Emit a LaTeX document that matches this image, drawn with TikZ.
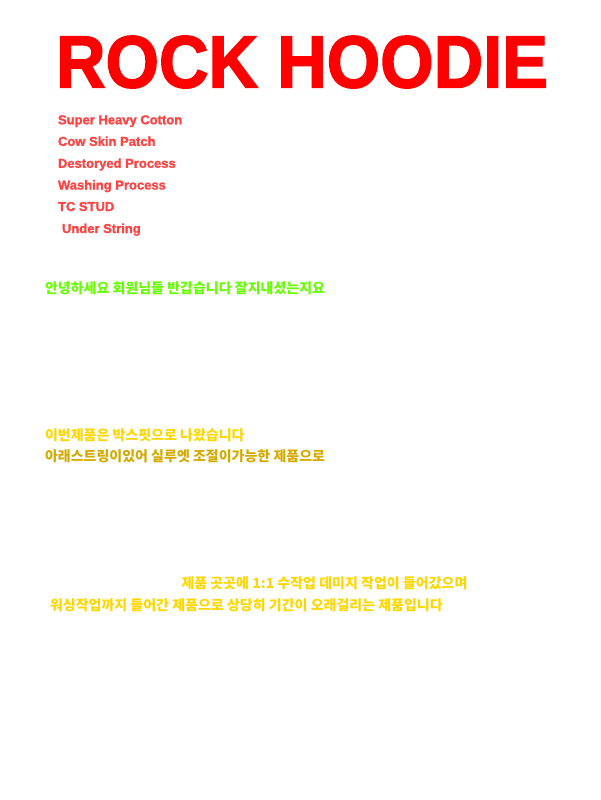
\documentclass[tikz,border=0pt]{standalone}
\usepackage{fontspec}
\setmainfont{Liberation Sans}
\newfontfamily\heavy{Liberation Sans Bold}[FakeBold=2]
\newfontfamily\listfont{Liberation Sans Bold}[FakeBold=1.5]
\newfontfamily\kr{Noto Sans CJK KR}
\definecolor{titlered}{HTML}{FF0000}
\definecolor{listred}{HTML}{FF4242}
\definecolor{lime}{HTML}{66FF00}
\definecolor{gold}{HTML}{FFD700}
\definecolor{darkgold}{HTML}{D4AA00}
\tikzset{
  txt/.style={anchor=base west, inner sep=0pt, outer sep=0pt},
  titletxt/.style={txt, text=titlered, font=\heavy\fontsize{74}{74}\selectfont, xscale=0.928},
  listtxt/.style={txt, text=listred, font=\listfont\fontsize{13}{13}\selectfont},
  krtxt/.style={txt, font=\kr\bfseries\fontsize{14}{14}\selectfont},
}
\begin{document}
\begin{tikzpicture}[x=1pt,y=-1pt]
\useasboundingbox[fill=white] (0,0) rectangle (600,800);
\node[titletxt] (title) at (56,87.5) {ROCK HOODIE};
\node[listtxt] (l1) at (58,124.3) {Super Heavy Cotton};
\node[listtxt] (l2) at (58,145.9) {Cow Skin Patch};
\node[listtxt] (l3) at (58,167.8) {Destoryed Process};
\node[listtxt] (l4) at (58,189.5) {Washing Process};
\node[listtxt] (l5) at (58,211.0) {TC STUD};
\node[listtxt] (l6) at (62,233.0) {Under String};
\node[krtxt, text=lime] (g1) at (45,293) {안녕하세요 회원님들 반갑습니다 잘지내셨는지요};
\node[krtxt, text=gold] (y1) at (45,440) {이번제품은 박스핏으로 나왔습니다};
\node[krtxt, text=darkgold] (y2) at (45,461.5) {아래스트링이있어 실루엣 조절이가능한 제품으로};
\node[krtxt, text=gold] (y3) at (181.5,588) {제품 곳곳에 1:1 수작업 데미지 작업이 들어갔으며};
\node[krtxt, text=gold] (y4) at (50,610) {워싱작업까지 들어간 제품으로 상당히 기간이 오래걸리는 제품입니다};
\end{tikzpicture}
\end{document}
